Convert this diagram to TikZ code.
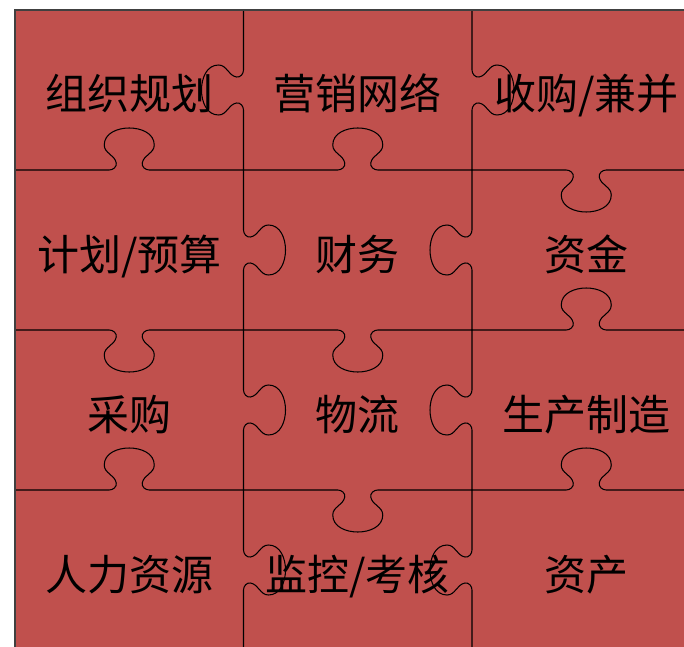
\documentclass[tikz,border=0pt]{standalone}
\usepackage{fontspec}
\newfontfamily\cjk{Noto Sans CJK SC}
\definecolor{piecered}{RGB}{192,80,77}
\tikzset{
  cut/.style={line width=1.05pt,black,line cap=round,line join=round},
  frame/.style={line width=1.4pt,black!75},
  piece label/.style={font=\cjk\fontsize{42}{48}\selectfont,anchor=base,shift={(0,-20pt)}},
  pics/tabedge/.style={code={
    \draw[cut] (0,0) -- ({#1/2-20},0)
      to[out=0,in=-80] ({#1/2-13},7)
      to[out=100,in=-90] ({#1/2-25},25)
      to[out=90,in=180] ({#1/2},42)
      to[out=0,in=90] ({#1/2+25},25)
      to[out=-90,in=80] ({#1/2+13},7)
      to[out=-100,in=180] ({#1/2+20},0)
      -- (#1,0);
  }}
}
\begin{document}
\begin{tikzpicture}[x=1pt,y=1pt]
    \useasboundingbox (0,0) rectangle (684,646);
    \clip (0,0) rectangle (684,646);
    \coordinate (nw) at (15,636);
    \coordinate (se) at (700.5,-4);
    \fill[piecered] (nw) rectangle (se);
    % vertical cuts (rotate=90: tab to the left, rotate=-90: tab to the right)
    \pic[rotate=90] at (243.5,476) {tabedge=160};
    \pic[rotate=-90] at (243.5,476) {tabedge=160};
    \pic[rotate=-90] at (243.5,316) {tabedge=160};
    \pic[rotate=-90] at (243.5,156) {tabedge=160};
    \pic[rotate=-90] at (472,636) {tabedge=160};
    \pic[rotate=90] at (472,316) {tabedge=160};
    \pic[rotate=90] at (472,156) {tabedge=160};
    \pic[rotate=90] at (472,-4) {tabedge=160};
    % horizontal cuts (no rotation: tab up, rotate=180: tab down)
    \pic at (15,476) {tabedge=228.5};
    \pic at (243.5,476) {tabedge=228.5};
    \pic[rotate=180] at (700.5,476) {tabedge=228.5};
    \pic[rotate=180] at (243.5,316) {tabedge=228.5};
    \pic[rotate=180] at (472,316) {tabedge=228.5};
    \pic at (472,316) {tabedge=228.5};
    \pic at (15,156) {tabedge=228.5};
    \pic[rotate=180] at (472,156) {tabedge=228.5};
    \pic at (472,156) {tabedge=228.5};
    \draw[frame] (se -| nw) -- (nw) -- (nw -| se);
    % cell centres
    \coordinate (A1) at (129.25,556);
    \coordinate (A2) at (357.75,556);
    \coordinate (A3) at (586.25,556);
    \coordinate (B1) at (129.25,396);
    \coordinate (B2) at (357.75,396);
    \coordinate (B3) at (586.25,396);
    \coordinate (C1) at (129.25,236);
    \coordinate (C2) at (357.75,236);
    \coordinate (C3) at (586.25,236);
    \coordinate (D1) at (129.25,76);
    \coordinate (D2) at (357.75,76);
    \coordinate (D3) at (586.25,76);
    \node[piece label] (zuzhi) at (A1) {组织规划};
    \node[piece label] (yingxiao) at (A2) {营销网络};
    \node[piece label] (shougou) at (A3) {收购/兼并};
    \node[piece label] (jihua) at (B1) {计划/预算};
    \node[piece label] (caiwu) at (B2) {财务};
    \node[piece label] (zijin) at (B3) {资金};
    \node[piece label] (caigou) at (C1) {采购};
    \node[piece label] (wuliu) at (C2) {物流};
    \node[piece label] (shengchan) at (C3) {生产制造};
    \node[piece label] (renli) at (D1) {人力资源};
    \node[piece label] (jiankong) at (D2) {监控/考核};
    \node[piece label] (zichan) at (D3) {资产};
\end{tikzpicture}
\end{document}
